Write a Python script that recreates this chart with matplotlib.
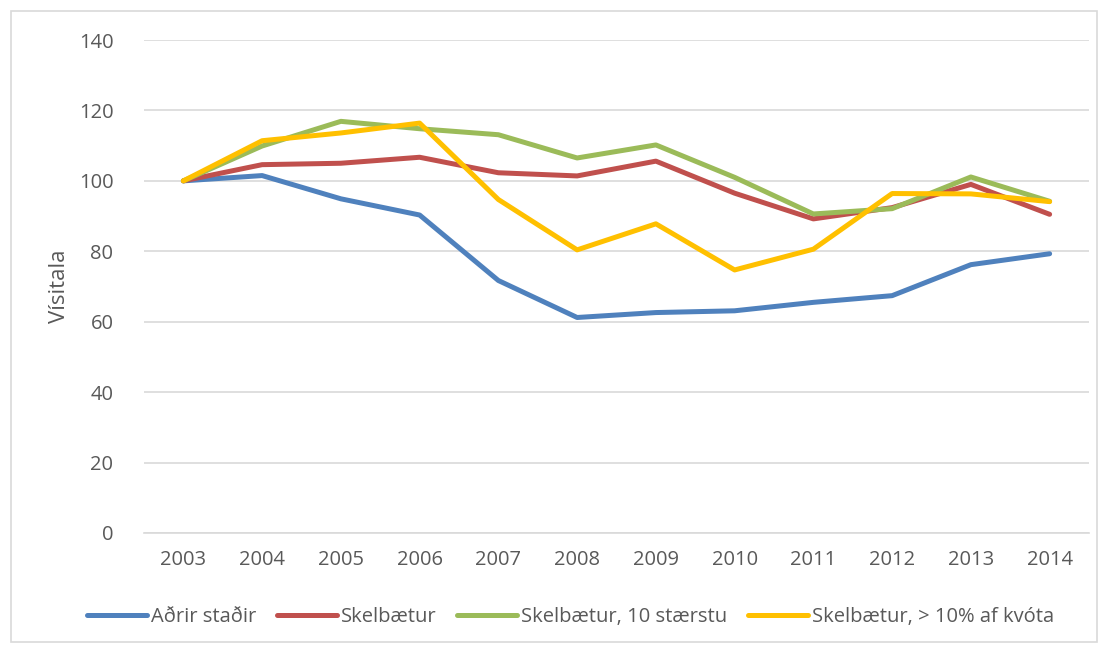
import matplotlib
matplotlib.use("Agg")
import matplotlib.pyplot as plt
from matplotlib.patches import Rectangle

years = ["2003", "2004", "2005", "2006", "2007", "2008", "2009", "2010", "2011", "2012", "2013", "2014"]
adrir_stadir = [100, 101.5, 94.9, 90.3, 71.7, 61.2, 62.6, 63.1, 65.5, 67.4, 76.2, 79.3]
skelbatur = [100, 104.6, 105.0, 106.7, 102.3, 101.4, 105.6, 96.5, 89.2, 92.4, 99.0, 90.5]
skelbatur_10 = [100, 109.9, 116.9, 114.8, 113.1, 106.5, 110.2, 101.0, 90.6, 92.1, 101.1, 94.2]
skelbatur_kvota = [100, 111.4, 113.6, 116.4, 94.7, 80.4, 87.8, 74.7, 80.6, 96.4, 96.3, 94.1]

series = [
    ("Aðrir staðir", adrir_stadir, "#4F81BD"),
    ("Skelbætur", skelbatur, "#C0504D"),
    ("Skelbætur, 10 stærstu", skelbatur_10, "#9BBB59"),
    ("Skelbætur, > 10% af kvóta", skelbatur_kvota, "#FFC000"),
]

plt.rcParams['font.family'] = ['Open Sans', 'DejaVu Sans']

fig = plt.figure(figsize=(11.08, 6.5), dpi=100)
fig.patches.append(Rectangle((11/1108, 1 - 642/650), 1086/1108, 631/650,
                             transform=fig.transFigure, fill=False,
                             edgecolor="#D9D9D9", linewidth=1.2))
ax = fig.add_axes([144/1108, 1 - 533/650, (1089 - 144)/1108, (533 - 40)/650])

x = list(range(len(years)))
for label, vals, color in series:
    ax.plot(x, vals, color=color, linewidth=3.6, label=label,
            solid_capstyle="round", solid_joinstyle="round")

ax.set_xlim(-0.5, len(years) - 0.5)
ax.set_ylim(0, 140)
ax.set_yticks(range(0, 141, 20))
ax.set_xticks(x)
ax.set_xticklabels(years)
ax.grid(axis="y", color="#D9D9D9", linewidth=1.2)
ax.set_axisbelow(True)
for s in ["top", "right", "left"]:
    ax.spines[s].set_visible(False)
ax.spines["bottom"].set_color("#D9D9D9")
ax.spines["bottom"].set_linewidth(1.2)
ax.tick_params(axis="both", length=0, labelsize=14.5, colors="#595959", pad=10)
ax.tick_params(axis="y", pad=22)
ax.tick_params(axis="x", pad=12)
ax.set_ylabel("Vísitala", fontsize=16, color="#595959", labelpad=6)

leg = fig.legend(loc="center", bbox_to_anchor=(0.515, 1 - 617/650), ncol=4,
                 frameon=False, fontsize=14.5, handlelength=3.0, columnspacing=1.0,
                 handletextpad=0.2, labelcolor="#595959")

fig.savefig("out.png", dpi=100)
